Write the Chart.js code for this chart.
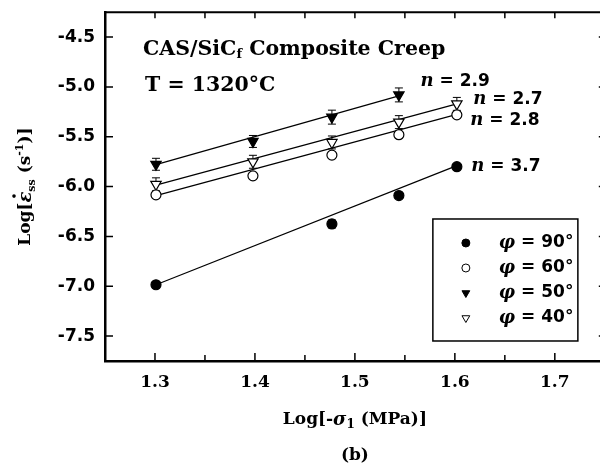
<!DOCTYPE html>
<html>
<head>
<meta charset="utf-8">
<script src="https://cdn.jsdelivr.net/npm/chart.js@4/dist/chart.umd.min.js"></script>
<style>
  html, body { margin: 0; padding: 0; background: #fff; overflow: hidden; }
  #wrap { width: 612px; height: 474px; }
</style>
</head>
<body>
<div id="wrap"><canvas id="creepChart" width="612" height="474"></canvas></div>
<script>
// Log of stress (20, 25, 30, 35, 40 MPa)
const logStress = [1.301, 1.398, 1.477, 1.544, 1.602];

// Log steady-state creep rate for each fibre angle
const rate90 = [-6.985, null, -6.375, -6.09, -5.80];
const rate60 = [-6.083, -5.892, -5.684, -5.479, -5.28];
const rate50 = [-5.776, -5.547, -5.303, -5.08, null];
const rate40 = [-5.977, -5.751, -5.557, -5.353, -5.17];

// error bar half-sizes
const err90 = [0.03, null, 0.04, 0.03, 0.02];
const err60 = [0.02, 0.02, 0.02, 0.02, 0.02];
const err50 = [0.06, 0.06, 0.07, 0.07, null];
const err40 = [0.065, 0.065, 0.065, 0.065, 0.065];

// fitted lines (start/end)
const fitX90 = [1.301, 1.602], fitY90 = [-6.985, -5.79];
const fitX60 = [1.301, 1.602], fitY60 = [-6.09, -5.275];
const fitX50 = [1.301, 1.544], fitY50 = [-5.78, -5.09];
const fitX40 = [1.301, 1.602], fitY40 = [-5.985, -5.17];

const seriesNames = ['90°', '60°', '50°', '40°'];
const slopeLabels = ['3.7', '2.8', '2.9', '2.7'];

const xTicks = [1.3, 1.4, 1.5, 1.6, 1.7];
const yTicks = [-7.5, -7.0, -6.5, -6.0, -5.5, -5.0, -4.5];

const markerStyles = [
    { shape: 'circle', filled: true },
    { shape: 'circle', filled: false },
    { shape: 'triangle', filled: true },
    { shape: 'triangle', filled: false }
];

const rates = [rate90, rate60, rate50, rate40];
const errs = [err90, err60, err50, err40];
const fitsX = [fitX90, fitX60, fitX50, fitX40];
const fitsY = [fitY90, fitY60, fitY50, fitY40];

function toPoints(xs, ys) {
    const pts = [];
    xs.forEach((x, i) => { if (ys[i] !== null) pts.push({ x: x, y: ys[i] }); });
    return pts;
}

const datasets = [];
rates.forEach((r, i) => {
    const st = markerStyles[i];
    datasets.push({
        type: 'scatter',
        label: seriesNames[i],
        data: toPoints(logStress, r),
        pointStyle: st.shape,
        rotation: st.shape === 'triangle' ? 180 : 0,
        pointRadius: st.shape === 'triangle' ? 6 : 5,
        backgroundColor: st.filled ? '#000' : '#fff',
        borderColor: '#000',
        borderWidth: 1.2,
        order: 0
    });
});
fitsX.forEach((fx, i) => {
    datasets.push({
        type: 'line',
        label: 'fit ' + seriesNames[i],
        data: toPoints(fx, fitsY[i]),
        borderColor: '#000',
        borderWidth: 1.2,
        pointRadius: 0,
        fill: false,
        order: 1
    });
});

const SERIF = '"DejaVu Serif", serif';
const SANS = '"DejaVu Sans", sans-serif';

function drawRuns(ctx, runs, x, y, align) {
    let total = 0;
    runs.forEach(r => { ctx.font = r.font; total += ctx.measureText(r.text).width; });
    let cx = align === 'center' ? x - total / 2 : x;
    runs.forEach(r => {
        ctx.font = r.font;
        ctx.fillText(r.text, cx, y + (r.dy || 0));
        r.x = cx;
        r.w = ctx.measureText(r.text).width;
        cx += r.w;
    });
    return runs;
}

function drawMarker(ctx, st, x, y, r) {
    ctx.beginPath();
    if (st.shape === 'circle') {
        ctx.arc(x, y, r, 0, Math.PI * 2);
    } else {
        ctx.moveTo(x - r * 0.866, y - r * 0.5);
        ctx.lineTo(x + r * 0.866, y - r * 0.5);
        ctx.lineTo(x, y + r);
        ctx.closePath();
    }
    ctx.fillStyle = st.filled ? '#000' : '#fff';
    ctx.fill();
    ctx.lineWidth = 1;
    ctx.strokeStyle = '#000';
    ctx.stroke();
}

const errorBars = {
    id: 'errorBars',
    beforeDatasetsDraw(chart) {
        const { ctx, scales: { x, y } } = chart;
        ctx.save();
        ctx.strokeStyle = '#000';
        ctx.lineWidth = 1;
        rates.forEach((r, i) => {
            logStress.forEach((lx, j) => {
                if (r[j] === null || errs[i][j] === null) return;
                const px = x.getPixelForValue(lx);
                const top = y.getPixelForValue(r[j] + errs[i][j]);
                const bot = y.getPixelForValue(r[j] - errs[i][j]);
                ctx.beginPath();
                ctx.moveTo(px, top); ctx.lineTo(px, bot);
                ctx.moveTo(px - 4, top); ctx.lineTo(px + 4, top);
                ctx.moveTo(px - 4, bot); ctx.lineTo(px + 4, bot);
                ctx.stroke();
            });
        });
        ctx.restore();
    }
};

const frameAndText = {
    id: 'frameAndText',
    afterDraw(chart) {
        const { ctx, chartArea: a, scales: { x, y } } = chart;
        ctx.save();
        ctx.strokeStyle = '#000';
        ctx.fillStyle = '#000';

        // top and right frame
        ctx.lineWidth = 2;
        ctx.beginPath();
        ctx.moveTo(a.left, a.top); ctx.lineTo(a.right, a.top); ctx.lineTo(a.right, a.bottom);
        ctx.stroke();

        // inward ticks
        ctx.lineWidth = 1.5;
        ctx.beginPath();
        const minors = [];
        for (let i = 0; i < xTicks.length - 1; i++) minors.push((xTicks[i] + xTicks[i + 1]) / 2);
        xTicks.forEach(v => {
            const px = x.getPixelForValue(v);
            ctx.moveTo(px, a.bottom); ctx.lineTo(px, a.bottom - 8);
            ctx.moveTo(px, a.top); ctx.lineTo(px, a.top + 6);
        });
        minors.forEach(v => {
            const px = x.getPixelForValue(v);
            ctx.moveTo(px, a.bottom); ctx.lineTo(px, a.bottom - 6);
            ctx.moveTo(px, a.top); ctx.lineTo(px, a.top + 6);
        });
        yTicks.forEach(v => {
            const py = y.getPixelForValue(v);
            ctx.moveTo(a.left, py); ctx.lineTo(a.left + 8, py);
            ctx.moveTo(a.right, py); ctx.lineTo(a.right - 6, py);
        });
        ctx.stroke();

        ctx.textBaseline = 'middle';
        ctx.textAlign = 'left';

        // in-plot title
        drawRuns(ctx, [
            { text: 'CAS/SiC', font: 'bold 20.5px ' + SERIF },
            { text: 'f', font: 'bold 13px ' + SERIF, dy: 5 },
            { text: ' Composite Creep', font: 'bold 20.5px ' + SERIF }
        ], x.getPixelForValue(1.288), y.getPixelForValue(-4.626));
        drawRuns(ctx, [
            { text: 'T = 1320°C', font: 'bold 20.5px ' + SERIF }
        ], x.getPixelForValue(1.290), y.getPixelForValue(-4.985));

        // slope labels
        const slopeAnchors = [[1.6165, -5.801], [1.6155, -5.333], [1.5657, -4.944], [1.6185, -5.124]];
        slopeLabels.forEach((s, i) => {
            drawRuns(ctx, [
                { text: 'n', font: 'italic bold 18px ' + SERIF },
                { text: ' = ' + s, font: 'bold 17px ' + SANS }
            ], x.getPixelForValue(slopeAnchors[i][0]), y.getPixelForValue(slopeAnchors[i][1]));
        });

        // legend box
        const lx = x.getPixelForValue(1.578), ly = y.getPixelForValue(-6.325);
        const lw = 145, lh = 122;
        ctx.fillStyle = '#fff';
        ctx.fillRect(lx, ly, lw, lh);
        ctx.lineWidth = 1.5;
        ctx.strokeRect(lx, ly, lw, lh);
        ctx.fillStyle = '#000';
        seriesNames.forEach((nm, i) => {
            const ry = ly + 24 + i * 25;
            drawMarker(ctx, markerStyles[i], lx + 33, ry, markerStyles[i].shape === 'circle' ? 4 : 4.5);
            ctx.fillStyle = '#000';
            drawRuns(ctx, [
                { text: 'φ', font: 'italic bold 18px ' + SERIF },
                { text: ' = ' + nm, font: 'bold 17px ' + SANS }
            ], lx + 66, ry);
        });

        // x axis title
        const xc = (a.left + a.right) / 2;
        drawRuns(ctx, [
            { text: 'Log[-', font: 'bold 17px ' + SERIF },
            { text: 'σ', font: 'italic bold 18px ' + SERIF },
            { text: '1', font: 'bold 12px ' + SERIF, dy: 5 },
            { text: ' (MPa)]', font: 'bold 17px ' + SERIF }
        ], xc, a.bottom + 59, 'center');
        drawRuns(ctx, [{ text: '(b)', font: 'bold 17px ' + SERIF }], xc, a.bottom + 95, 'center');

        // y axis title
        ctx.save();
        ctx.translate(26, (a.top + a.bottom) / 2);
        ctx.rotate(-Math.PI / 2);
        const runs = drawRuns(ctx, [
            { text: 'Log[', font: 'bold 17px ' + SERIF },
            { text: 'ε', font: 'italic bold 18px ' + SERIF },
            { text: 'ss', font: 'bold 11px ' + SERIF, dy: 6 },
            { text: ' (s', font: 'bold 17px ' + SERIF },
            { text: '-1', font: 'bold 11px ' + SERIF, dy: -6 },
            { text: ')]', font: 'bold 17px ' + SERIF }
        ], 0, 0, 'center');
        ctx.beginPath();
        ctx.arc(runs[1].x + runs[1].w / 2 + 1, -12, 1.8, 0, Math.PI * 2);
        ctx.fill();
        ctx.restore();

        ctx.restore();
    }
};

const chart = new Chart(document.getElementById('creepChart').getContext('2d'), {
    data: { datasets: datasets },
    options: {
        responsive: false,
        animation: false,
        devicePixelRatio: 1,
        layout: { padding: { top: 9, right: 5, left: 0, bottom: 0 } },
        plugins: { legend: { display: false }, tooltip: { enabled: false } },
        scales: {
            x: {
                type: 'linear',
                min: 1.25,
                max: 1.75,
                grid: { display: false },
                border: { display: true, color: '#000', width: 2.5 },
                afterBuildTicks: s => { s.ticks = xTicks.map(v => ({ value: v })); },
                afterFit: s => { s.height = 113; },
                ticks: {
                    color: '#000',
                    padding: 3,
                    autoSkip: false,
                    maxRotation: 0,
                    font: { family: 'DejaVu Serif', weight: 'bold', size: 17 },
                    callback: v => v.toFixed(1)
                }
            },
            y: {
                type: 'linear',
                min: -7.75,
                max: -4.25,
                grid: { display: false },
                border: { display: true, color: '#000', width: 2.5 },
                afterBuildTicks: s => { s.ticks = yTicks.map(v => ({ value: v })); },
                afterFit: s => { s.width = 105; },
                ticks: {
                    color: '#000',
                    padding: 2,
                    autoSkip: false,
                    font: { family: 'DejaVu Sans', weight: 'bold', size: 17 },
                    callback: v => v.toFixed(1)
                }
            }
        }
    },
    plugins: [errorBars, frameAndText]
});
</script>
</body>
</html>
